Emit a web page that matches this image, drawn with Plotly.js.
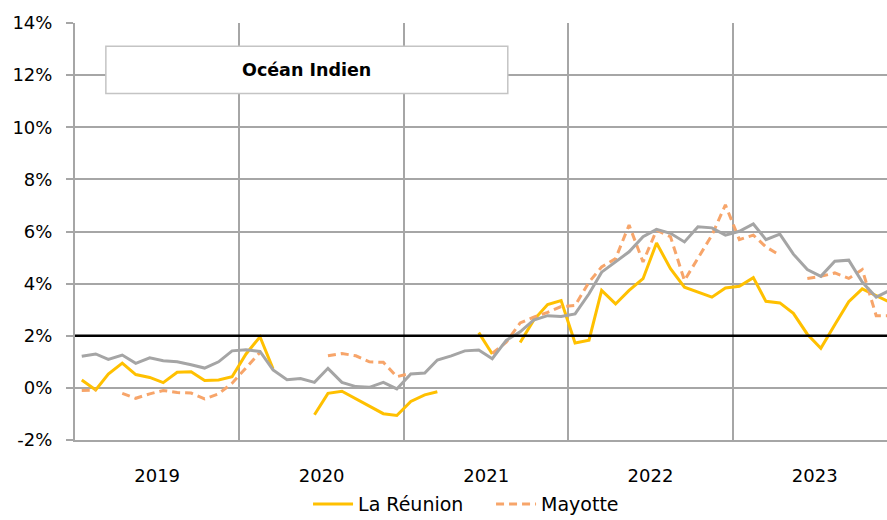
<!DOCTYPE html>
<html>
<head>
<meta charset="utf-8">
<script src="https://cdn.plot.ly/plotly-3.0.1.min.js"></script>
<style>
html,body{margin:0;padding:0;background:#fff;overflow:hidden;}
#chart{width:887px;height:520px;}
</style>
</head>
<body>
<div id="chart"></div>
<script>
// Months covered: Jan 2019 .. Dec 2023
var years = [2019, 2020, 2021, 2022, 2023];
var monthNums = ['01','02','03','04','05','06','07','08','09','10','11','12'];

// Year-on-year inflation (%)
var reunion = [
  0.30, -0.08, 0.53, 0.95, 0.51, 0.40, 0.20, 0.60, 0.62, 0.28, 0.30, 0.43,
  1.30, 1.96, 0.73, null, null, -1.03, -0.21, -0.13, -0.42, -0.71, -0.99, -1.06,
  -0.52, -0.27, -0.15, null, null, 2.12, 1.30, null, 1.74, 2.60, 3.20, 3.35,
  1.72, 1.83, 3.74, 3.22, 3.74, 4.19, 5.56, 4.57, 3.86, 3.67, 3.48, 3.83,
  3.90, 4.23, 3.32, 3.26, 2.86, 2.06, 1.52, 2.42, 3.31, 3.80, 3.54, 3.29
];
var mayotte = [
  -0.10, -0.08, null, -0.21, -0.40, -0.23, -0.10, -0.18, -0.20, -0.42, -0.23, 0.18,
  0.79, 1.36, null, null, null, null, 1.23, 1.32, 1.23, 1.00, 0.98, 0.43,
  0.56, null, null, null, null, null, 1.32, 1.75, 2.49, 2.71, 2.90, 3.12,
  3.16, 4.06, 4.64, 4.96, 6.25, 4.83, 6.05, 5.80, 4.12, 4.96, 5.86, 7.02,
  5.69, 5.86, 5.41, 5.09, null, 4.20, 4.28, 4.41, 4.20, 4.54, 2.77, 2.77
];
var france = [
  1.21, 1.30, 1.09, 1.26, 0.94, 1.15, 1.04, 1.00, 0.89, 0.76, 1.00, 1.42,
  1.46, 1.40, 0.69, 0.31, 0.36, 0.21, 0.75, 0.21, 0.05, 0.02, 0.21, -0.04,
  0.53, 0.57, 1.07, 1.23, 1.42, 1.45, 1.12, 1.82, 2.15, 2.60, 2.77, 2.74,
  2.84, 3.61, 4.44, 4.83, 5.22, 5.80, 6.08, 5.93, 5.60, 6.18, 6.14, 5.86,
  6.01, 6.29, 5.69, 5.90, 5.13, 4.54, 4.28, 4.86, 4.90, 4.06, 3.48, 3.74
];
var seriesNames = ['La Réunion', 'Mayotte', 'France'];
var yTickVals = [-2, 0, 2, 4, 6, 8, 10, 12, 14];
var yTickText = ['-2%', '0%', '2%', '4%', '6%', '8%', '10%', '12%', '14%'];
var targetLevel = 2;
var boxTitle = 'Océan Indien';

var dates = [];
years.forEach(function(y){ monthNums.forEach(function(m){ dates.push(y + '-' + m + '-16'); }); });

var FONT = 'DejaVu Sans, Verdana, sans-serif';
var GRID = '#a6a6a6';

var traces = [
  {x: dates, y: reunion, name: seriesNames[0], type: 'scatter', mode: 'lines',
   line: {color: '#FFC000', width: 3}, connectgaps: false},
  {x: dates, y: mayotte, name: seriesNames[1], type: 'scatter', mode: 'lines',
   line: {color: '#F7A56A', width: 3, dash: '8px,5px'}, connectgaps: false},
  {x: dates, y: france, name: seriesNames[2], type: 'scatter', mode: 'lines',
   line: {color: '#A5A5A5', width: 3}, connectgaps: false, showlegend: false}
];

var layout = {
  width: 887, height: 520,
  margin: {l: 75, r: 0, t: 23, b: 80, pad: 0, autoexpand: false},
  paper_bgcolor: '#fff', plot_bgcolor: '#fff',
  font: {family: FONT, size: 18, color: '#000'},
  showlegend: true,
  xaxis: {
    type: 'date',
    range: ['2019-01-01', '2023-12-10'],
    tick0: '2019-01-01', dtick: 'M12', tickformat: '%Y', ticklabelmode: 'period',
    showgrid: true, gridcolor: GRID, gridwidth: 2,
    showline: true, linecolor: GRID, linewidth: 2,
    ticks: '', ticklabelstandoff: 18,
    tickfont: {family: FONT, size: 18, color: '#000'},
    zeroline: false, fixedrange: true, automargin: false
  },
  yaxis: {
    range: [-2, 14], tickmode: 'array', tickvals: yTickVals, ticktext: yTickText,
    showgrid: true, gridcolor: GRID, gridwidth: 2,
    showline: true, linecolor: GRID, linewidth: 2,
    ticks: 'outside', ticklen: 7, tickcolor: GRID, tickwidth: 2,
    ticklabelstandoff: 10,
    tickfont: {family: FONT, size: 18, color: '#000'},
    zeroline: false, fixedrange: true, automargin: false
  },
  legend: {
    orientation: 'h', x: 0.287, xanchor: 'left', y: -0.108, yanchor: 'top',
    font: {family: FONT, size: 19, color: '#000'}, bgcolor: 'rgba(0,0,0,0)',
    itemwidth: 40, entrywidth: 128, entrywidthmode: 'pixels', tracegroupgap: 0
  },
  shapes: [
    {type: 'line', xref: 'paper', x0: 0, x1: 1, yref: 'y', y0: targetLevel, y1: targetLevel,
     line: {color: '#000', width: 2.5}, layer: 'above'},
    {type: 'rect', xref: 'paper', yref: 'paper', x0: 0.038, x1: 0.533, y0: 0.831, y1: 0.944,
     fillcolor: '#fff', line: {color: '#c4c4c4', width: 1.5}, layer: 'above'}
  ],
  annotations: [
    {text: '<b>' + boxTitle + '</b>', xref: 'paper', yref: 'paper', x: 0.2855, y: 0.887,
     xanchor: 'center', yanchor: 'middle', showarrow: false,
     font: {family: FONT, size: 17.5, color: '#000'}}
  ]
};

Plotly.newPlot('chart', traces, layout, {displayModeBar: false, staticPlot: true});
</script>
</body>
</html>
